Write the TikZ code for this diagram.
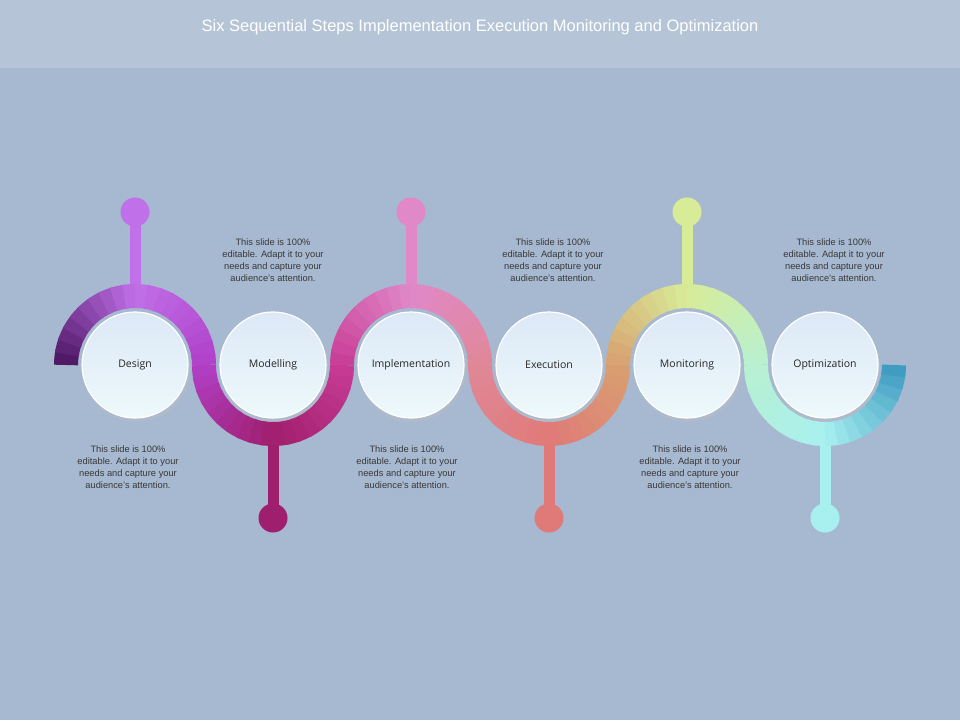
\documentclass[tikz,border=0pt]{standalone}
\usepackage{fontspec}
\setmainfont{Liberation Sans}
\newfontfamily\lblfont{Open Sans}
\begin{document}
\begin{tikzpicture}[x=1pt,y=-1pt,
  bubble/.style={circle,minimum size=106pt,inner sep=0pt,draw=white,line width=1.2pt,top color=ctop,bottom color=cbot,font=\lblfont\fontsize{10.5}{12}\selectfont,text=black!85},
  ball/.style={circle,minimum size=29pt,inner sep=0pt},
  stem/.style={line width=11pt},
  body/.style={align=center,font=\fontsize{9.3}{12}\selectfont,text=black!78}]
\definecolor{bg}{HTML}{A7B9D0}
\definecolor{tb}{HTML}{B5C5D7}
\definecolor{ctop}{HTML}{DCE8F6}
\definecolor{cbot}{HTML}{EEF9FB}
\fill[bg] (0,0) rectangle (960,720);
\fill[tb] (0,0) rectangle (960,68);
\node[text=white,font=\fontsize{16.5}{20}\selectfont] (title) at (480,27) {Six Sequential Steps Implementation Execution Monitoring and Optimization};
\definecolor{p0}{HTML}{4A1560}\definecolor{p1}{HTML}{C070E8}\definecolor{p2}{HTML}{B040C8}
\definecolor{p3}{HTML}{A01E6E}\definecolor{p4}{HTML}{C83C96}\definecolor{p5}{HTML}{E088C8}
\definecolor{p6}{HTML}{E08898}\definecolor{p7}{HTML}{E07A78}\definecolor{p8}{HTML}{D8A070}
\definecolor{p9}{HTML}{D8EC98}\definecolor{p10}{HTML}{B8F0D0}\definecolor{p11}{HTML}{A8F0F0}\definecolor{p12}{HTML}{3C98C0}
% stems and balls
\foreach \k/\cx/\sg/\col in {1/135/-1/p1,2/273/1/p3,3/411/-1/p5,4/549/1/p7,5/687/-1/p9,6/825/1/p11}{
  \coordinate (t\k) at (\cx,{365+\sg*70});
  \node[ball,fill=\col] (b\k) at (\cx,{365+\sg*153}) {};
  \draw[stem,\col] (t\k) -- (b\k.center);
}
% S band
\newcommand\segm[6]{%
 \foreach \i in {0,...,9}{
   \pgfmathsetmacro\aa{#2+(#3-#2)*\i/20}
   \pgfmathsetmacro\ab{#2+(#3-#2)*(\i+1.3)/20}
   \pgfmathsetmacro\pp{\i*10+5}
   \draw[line width=24pt,color=#5!\pp!#4] ([shift={(\aa:69)}]#1,365) arc[start angle=\aa,end angle=\ab,radius=69];
 }
 \foreach \i in {10,...,19}{
   \pgfmathsetmacro\aa{#2+(#3-#2)*\i/20}
   \pgfmathsetmacro\ab{#2+(#3-#2)*(min(\i+1.3,20))/20}
   \pgfmathsetmacro\pp{(\i-10)*10+5}
   \draw[line width=24pt,color=#6!\pp!#5] ([shift={(\aa:69)}]#1,365) arc[start angle=\aa,end angle=\ab,radius=69];
 }}
\segm{135}{180}{360}{p0}{p1}{p2}
\segm{273}{180}{0}{p2}{p3}{p4}
\segm{411}{180}{360}{p4}{p5}{p6}
\segm{549}{180}{0}{p6}{p7}{p8}
\segm{687}{180}{360}{p8}{p9}{p10}
\segm{825}{180}{0}{p10}{p11}{p12}
% circles
\foreach \k/\cx/\t in {1/135/Design,2/273/Modelling,3/411/Implementation,4/549/Execution,5/687/Monitoring,6/825/Optimization}{
  \fill[black!25,opacity=0.35] (\cx+1,368) circle (54);
  \node[bubble] (c\k) at (\cx,365) {\t};
}
\newcommand\bodytext{This slide is 100\%\\editable. Adapt it to your\\needs and capture your\\audience's attention.}
\node[body] (u1) at (273,260) {\bodytext};
\node[body] (u2) at (553,260) {\bodytext};
\node[body] (u3) at (834,260) {\bodytext};
\node[body] (d1) at (128,467) {\bodytext};
\node[body] (d2) at (407,467) {\bodytext};
\node[body] (d3) at (690,467) {\bodytext};
\end{tikzpicture}
\end{document}
